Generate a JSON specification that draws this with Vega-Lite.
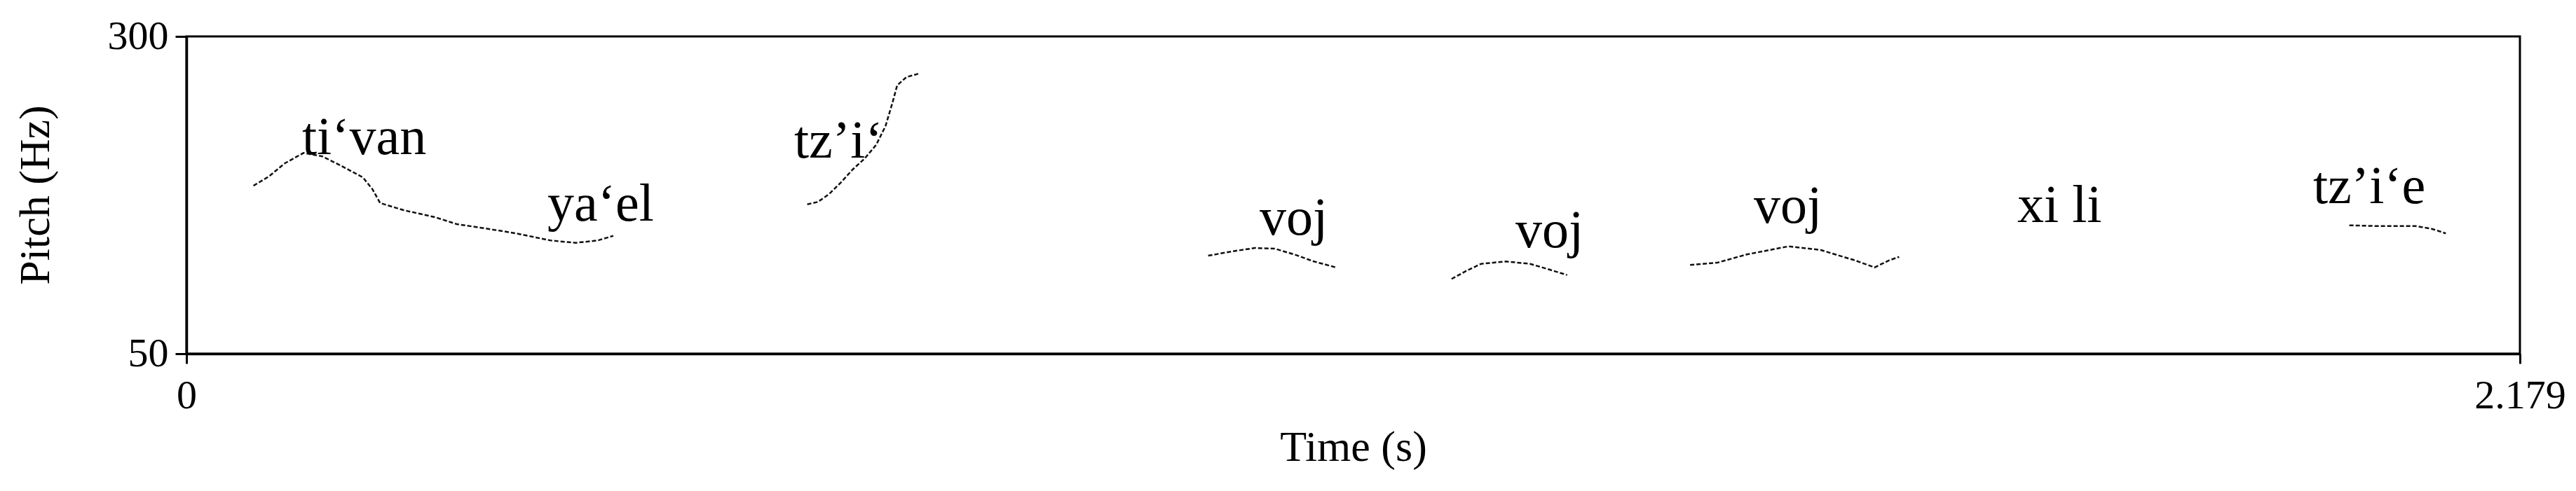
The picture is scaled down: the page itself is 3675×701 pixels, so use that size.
{
  "$schema": "https://vega.github.io/schema/vega-lite/v6.json",
  "width": 3329,
  "height": 453,
  "autosize": {"type": "none"},
  "padding": {"left": 266, "top": 52, "right": 80, "bottom": 196},
  "background": "white",
  "config": {
    "view": {"stroke": "black", "strokeWidth": 3},
    "axis": {
      "grid": false,
      "labelFont": "Liberation Serif",
      "labelFontSize": 58,
      "labelColor": "black",
      "labelFlush": false,
      "titleFont": "Liberation Serif",
      "titleFontSize": 62,
      "titleFontWeight": "normal",
      "titleColor": "black",
      "domainColor": "black",
      "domainWidth": 3.5,
      "tickColor": "black",
      "tickWidth": 3
    }
  },
  "datasets": {
    "pitch": [
      {"seg": "c1", "t": 0.0626, "hz": 182.4},
      {"seg": "c1", "t": 0.0772, "hz": 189.8},
      {"seg": "c1", "t": 0.0918, "hz": 200.0},
      {"seg": "c1", "t": 0.1093, "hz": 208.2},
      {"seg": "c1", "t": 0.1269, "hz": 205.5},
      {"seg": "c1", "t": 0.1444, "hz": 198.1},
      {"seg": "c1", "t": 0.1648, "hz": 188.9},
      {"seg": "c1", "t": 0.1736, "hz": 179.7},
      {"seg": "c1", "t": 0.1809, "hz": 168.7},
      {"seg": "c1", "t": 0.2028, "hz": 163.1},
      {"seg": "c1", "t": 0.2320, "hz": 157.6},
      {"seg": "c1", "t": 0.2525, "hz": 152.1},
      {"seg": "c1", "t": 0.2817, "hz": 148.4},
      {"seg": "c1", "t": 0.3080, "hz": 144.8},
      {"seg": "c1", "t": 0.3402, "hz": 139.2},
      {"seg": "c1", "t": 0.3635, "hz": 137.4},
      {"seg": "c1", "t": 0.3840, "hz": 139.2},
      {"seg": "c1", "t": 0.3986, "hz": 142.9},
      {"seg": "c2", "t": 0.5797, "hz": 167.7},
      {"seg": "c2", "t": 0.5896, "hz": 169.6},
      {"seg": "c2", "t": 0.6004, "hz": 176.0},
      {"seg": "c2", "t": 0.6114, "hz": 185.2},
      {"seg": "c2", "t": 0.6223, "hz": 195.3},
      {"seg": "c2", "t": 0.6331, "hz": 203.6},
      {"seg": "c2", "t": 0.6441, "hz": 214.6},
      {"seg": "c2", "t": 0.6528, "hz": 229.4},
      {"seg": "c2", "t": 0.6593, "hz": 247.8},
      {"seg": "c2", "t": 0.6637, "hz": 261.5},
      {"seg": "c2", "t": 0.6724, "hz": 268.0},
      {"seg": "c2", "t": 0.6845, "hz": 270.8},
      {"seg": "c3", "t": 0.9541, "hz": 127.3},
      {"seg": "c3", "t": 0.9794, "hz": 131.0},
      {"seg": "c3", "t": 0.9977, "hz": 133.3},
      {"seg": "c3", "t": 1.0161, "hz": 132.8},
      {"seg": "c3", "t": 1.0345, "hz": 128.2},
      {"seg": "c3", "t": 1.0528, "hz": 122.7},
      {"seg": "c3", "t": 1.0735, "hz": 118.0},
      {"seg": "c4", "t": 1.1814, "hz": 108.9},
      {"seg": "c4", "t": 1.1952, "hz": 115.3},
      {"seg": "c4", "t": 1.2089, "hz": 120.8},
      {"seg": "c4", "t": 1.2318, "hz": 122.7},
      {"seg": "c4", "t": 1.2548, "hz": 120.8},
      {"seg": "c4", "t": 1.2731, "hz": 116.2},
      {"seg": "c4", "t": 1.2893, "hz": 112.0},
      {"seg": "c5", "t": 1.4041, "hz": 119.9},
      {"seg": "c5", "t": 1.4293, "hz": 121.7},
      {"seg": "c5", "t": 1.4569, "hz": 128.2},
      {"seg": "c5", "t": 1.4959, "hz": 134.6},
      {"seg": "c5", "t": 1.5257, "hz": 131.8},
      {"seg": "c5", "t": 1.5579, "hz": 123.6},
      {"seg": "c5", "t": 1.5763, "hz": 118.0},
      {"seg": "c5", "t": 1.5900, "hz": 123.6},
      {"seg": "c5", "t": 1.5993, "hz": 126.3},
      {"seg": "c6", "t": 2.0197, "hz": 151.2},
      {"seg": "c6", "t": 2.0441, "hz": 150.6},
      {"seg": "c6", "t": 2.0666, "hz": 150.6},
      {"seg": "c6", "t": 2.0815, "hz": 150.6},
      {"seg": "c6", "t": 2.0967, "hz": 148.4},
      {"seg": "c6", "t": 2.1098, "hz": 144.8}
    ],
    "labels": [
      {"t": 0.1080, "hz": 207.3, "label": "ti‘van"},
      {"t": 0.3371, "hz": 154.9, "label": "ya‘el"},
      {"t": 0.5675, "hz": 204.5, "label": "tz’i‘"},
      {"t": 1.0021, "hz": 143.8, "label": "voj"},
      {"t": 1.2410, "hz": 133.9, "label": "voj"},
      {"t": 1.4636, "hz": 153.2, "label": "voj"},
      {"t": 1.7097, "hz": 153.8, "label": "xi li"},
      {"t": 1.9859, "hz": 168.7, "label": "tz’i‘e"}
    ]
  },
  "encoding": {
    "x": {
      "field": "t",
      "type": "quantitative",
      "scale": {"domain": [0, 2.179], "nice": false, "zero": false},
      "axis": {
        "title": "Time (s)",
        "values": [0, 2.179],
        "format": ".3~f",
        "tickSize": 14,
        "labelPadding": 17,
        "titleY": 152,
        "titleBaseline": "alphabetic"
      }
    },
    "y": {
      "field": "hz",
      "type": "quantitative",
      "scale": {"domain": [50, 300], "nice": false, "zero": false},
      "axis": {
        "title": "Pitch (Hz)",
        "values": [50, 300],
        "tickSize": 16,
        "labelPadding": 10,
        "titleX": -216,
        "titleY": 226,
        "titleAngle": -90,
        "titleAlign": "center",
        "titleBaseline": "middle"
      }
    }
  },
  "layer": [
    {
      "data": {"name": "pitch"},
      "mark": {"type": "line", "strokeWidth": 2.5, "strokeDash": [6, 3], "color": "#111111"},
      "encoding": {"detail": {"field": "seg", "type": "nominal"}}
    },
    {
      "data": {"name": "labels"},
      "mark": {"type": "text", "align": "left", "baseline": "alphabetic", "font": "Liberation Serif", "fontSize": 76, "color": "black"},
      "encoding": {"text": {"field": "label", "type": "nominal"}}
    }
  ]
}
